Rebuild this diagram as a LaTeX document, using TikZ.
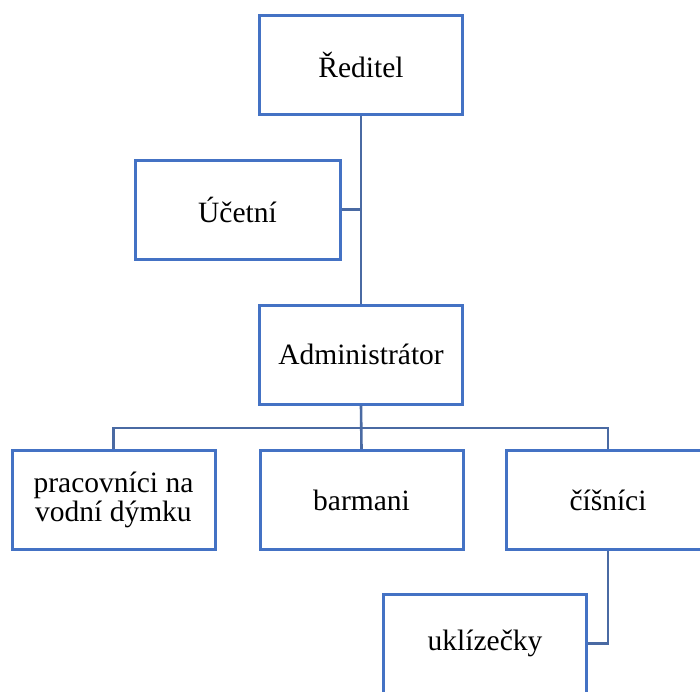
\documentclass[tikz,border=0pt]{standalone}
\usepackage{fontspec}
\setmainfont{Liberation Serif}
\definecolor{boxblue}{HTML}{4472C4}
\definecolor{linkblue}{HTML}{4A6AA3}
\tikzset{
  orgbox/.style={draw=boxblue, line width=3pt, fill=white, minimum width=203pt, minimum height=99pt, align=center, font=\fontsize{29.5}{29}\selectfont, inner sep=0pt},
  link/.style={draw=linkblue, line width=2.6pt}
}
\begin{document}
\begin{tikzpicture}[x=1pt,y=-1pt]
\clip (0,0) rectangle (700,691);
\fill[white] (0,0) rectangle (700,691);
\node[orgbox] (reditel) at (361,64.5) {Ředitel};
\node[orgbox, minimum width=205pt] (ucetni) at (237.5,209.5) {Účetní};
\node[orgbox] (admin) at (361,354.5) {Administrátor};
\node[orgbox] (prac) at (113.5,500) {pracovníci na\\vodní dýmku};
\node[orgbox] (barmani) at (361.5,500) {barmani};
\node[orgbox] (cisnici) at (608,500) {číšníci};
\node[orgbox] (ukliz) at (485,643.5) {uklízečky};
\coordinate (bus) at (361,428);
\draw[link] (reditel.south) -- (admin.north);
\draw[link] (ucetni.east) -- (ucetni.east -| reditel.south);
\draw[link] (admin.south) -- (barmani.north);
\draw[link] (prac.north) |- (bus) -| (cisnici.north);
\draw[link] (cisnici.south) |- (ukliz.east);
\end{tikzpicture}
\end{document}
